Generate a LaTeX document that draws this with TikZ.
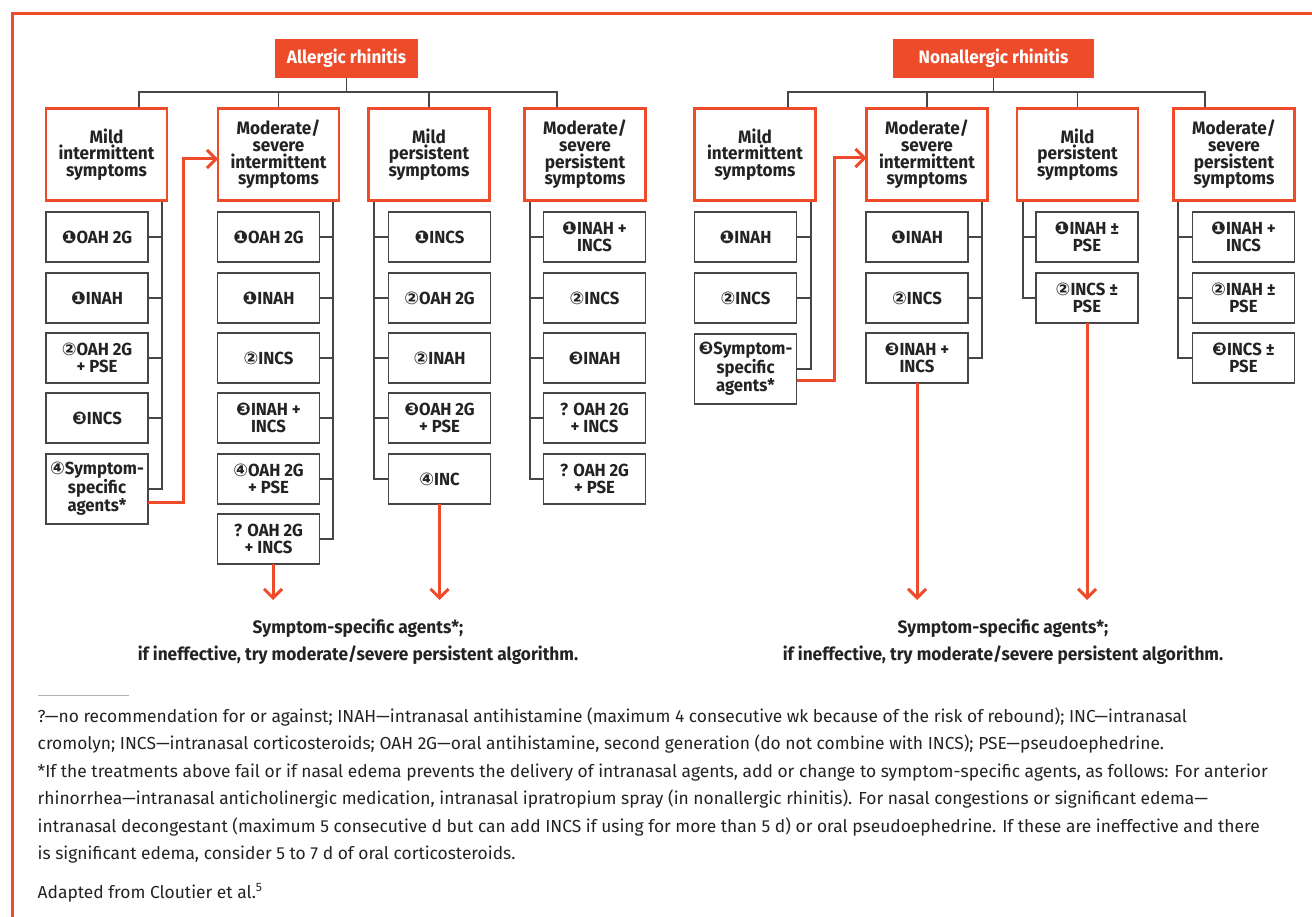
\documentclass[tikz,border=0pt]{standalone}
\usepackage{fontspec}
\setmainfont{Fira Sans}[FakeStretch=0.955]
\newfontfamily\footf{Fira Sans}
\newfontfamily\bott{Fira Sans}[FakeStretch=0.96]
\newfontfamily\dv{DejaVu Sans}
\usetikzlibrary{arrows.meta,calc}
\definecolor{ared}{RGB}{238,75,43}
\definecolor{ink}{RGB}{35,35,35}
\definecolor{lgray}{RGB}{70,70,70}
\pgfdeclarelayer{bg}
\pgfsetlayers{bg,main}
\newcommand{\nA}{{\dv\fontsize{17.5}{14}\selectfont ❶}}
\newcommand{\nB}{{\dv\fontsize{17.5}{14}\selectfont ②}}
\newcommand{\nC}{{\dv\fontsize{17.5}{14}\selectfont ❸}}
\newcommand{\nD}{{\dv\fontsize{17.5}{14}\selectfont ④}}
\tikzset{
 cat/.style={draw=ared, line width=2.6pt, fill=white, minimum width=121pt, minimum height=92pt, inner sep=0pt, outer sep=0pt, align=center, text=ink, font=\bfseries\fontsize{18}{16.7}\selectfont},
 item/.style={draw=lgray, line width=1.4pt, fill=white, minimum width=102pt, minimum height=50pt, inner sep=0pt, outer sep=0pt, align=center, text=ink, font=\bfseries\fontsize{17.5}{16.7}\selectfont},
 tall/.style={item, minimum height=70pt},
 ttl/.style={fill=ared, text=white, minimum height=39pt, inner sep=0pt, outer sep=0pt, font=\bfseries\fontsize{18}{20}\selectfont},
 conn/.style={draw=lgray, line width=1.3pt},
 rarr/.style={draw=ared, line width=3pt, -{Straight Barb[length=9pt,width=18pt]}},
 btxt/.style={align=center, text=ink, inner sep=0pt, font=\bott\bfseries\fontsize{18}{27}\selectfont},
 foot/.style={anchor=base west, inner sep=0pt, text=ink, font=\footf\fontsize{17.4}{20}\selectfont},
}
\begin{document}
\begin{tikzpicture}[x=1pt,y=-1pt]
\useasboundingbox (0,0) rectangle (1312,917);
\clip (0,0) rectangle (1312,917);
\draw[ared, line width=2.6pt] (12.5,1000) -- (12.5,13.5) -- (1400,13.5);

% ---------- Allergic rhinitis ----------
\node[ttl, minimum width=143pt] (AR) at (346.5,58.5) {Allergic rhinitis};
\node[cat] (A1) at (106.5,154.5) {Mild\\intermittent\\symptoms};
\node[cat] (A2) at (278.5,154.5) {Moderate/\\severe\\intermittent\\symptoms};
\node[cat] (A3) at (429,154.5) {Mild\\persistent\\symptoms};
\node[cat] (A4) at (585,154.5) {Moderate/\\severe\\persistent\\symptoms};

\node[item] (A1a) at (97,237) {\nA OAH 2G};
\node[item] (A1b) at (97,298) {\nA INAH};
\node[item] (A1c) at (97,358) {\nB OAH 2G\\+ PSE};
\node[item] (A1d) at (97,418) {\nC INCS};
\node[tall] (A1e) at (97,489) {\nD Symptom-\\specific\\agents*};

\node[item] (A2a) at (268.5,237) {\nA OAH 2G};
\node[item] (A2b) at (268.5,298) {\nA INAH};
\node[item] (A2c) at (268.5,358) {\nB INCS};
\node[item] (A2d) at (268.5,418) {\nC INAH +\\INCS};
\node[item] (A2e) at (268.5,479) {\nD OAH 2G\\+ PSE};
\node[item] (A2f) at (268.5,539) {? OAH 2G\\+ INCS};

\node[item] (A3a) at (439.5,237) {\nA INCS};
\node[item] (A3b) at (439.5,298) {\nB OAH 2G};
\node[item] (A3c) at (439.5,358) {\nB INAH};
\node[item] (A3d) at (439.5,418) {\nC OAH 2G\\+ PSE};
\node[item] (A3e) at (439.5,479) {\nD INC};

\node[item] (A4a) at (594.5,237) {\nA INAH +\\INCS};
\node[item] (A4b) at (594.5,298) {\nB INCS};
\node[item] (A4c) at (594.5,358) {\nC INAH};
\node[item] (A4d) at (594.5,418) {? OAH 2G\\+ INCS};
\node[item] (A4e) at (594.5,479) {? OAH 2G\\+ PSE};

% ---------- Nonallergic rhinitis ----------
\node[ttl, minimum width=201pt] (NR) at (993.5,58.5) {Nonallergic rhinitis};
\node[cat] (N1) at (755,154.5) {Mild\\intermittent\\symptoms};
\node[cat] (N2) at (927,154.5) {Moderate/\\severe\\intermittent\\symptoms};
\node[cat] (N3) at (1077.5,154.5) {Mild\\persistent\\symptoms};
\node[cat] (N4) at (1234,154.5) {Moderate/\\severe\\persistent\\symptoms};

\node[item] (N1a) at (745.5,237) {\nA INAH};
\node[item] (N1b) at (745.5,298) {\nB INCS};
\node[tall] (N1c) at (745.5,369) {\nC Symptom-\\specific\\agents*};

\node[item] (N2a) at (917,237) {\nA INAH};
\node[item] (N2b) at (917,298) {\nB INCS};
\node[item] (N2c) at (917,358) {\nC INAH +\\INCS};

\node[item] (N3a) at (1087,237) {\nA INAH ±\\PSE};
\node[item] (N3b) at (1087,298) {\nB INCS ±\\PSE};

\node[item] (N4a) at (1243.5,237) {\nA INAH +\\INCS};
\node[item] (N4b) at (1243.5,298) {\nB INAH ±\\PSE};
\node[item] (N4c) at (1243.5,358) {\nC INCS ±\\PSE};

% ---------- connectors ----------
\coordinate (D1) at (139,92);
\coordinate (D4) at (557,92);
\coordinate (D5) at (788,92);
\coordinate (D8) at (1205,92);
\coordinate (sA1) at (162,0);
\coordinate (sA2) at (333,0);
\coordinate (sA3) at (374,0);
\coordinate (sA4) at (530,0);
\coordinate (sN1) at (811,0);
\coordinate (sN2) at (982,0);
\coordinate (sN3) at (1023,0);
\coordinate (sN4) at (1178,0);
\coordinate (ay) at (0,600);

\begin{pgfonlayer}{bg}
\draw[conn] (A1.north -| D1) -- (D1) -- (D4) -- (A4.north -| D4);
\draw[conn] (AR.south) -- (AR.south |- D1);
\draw[conn] (A2.north) -- (A2.north |- D1);
\draw[conn] (A3.north) -- (A3.north |- D1);

\draw[conn] (N1.north -| D5) -- (D5) -- (D8) -- (N4.north -| D8);
\draw[conn] (NR.south) -- (NR.south |- D5);
\draw[conn] (N2.north) -- (N2.north |- D5);
\draw[conn] (N3.north) -- (N3.north |- D5);

% spines on the right
\draw[conn] (A1.south -| sA1) |- (A1e.east);
\foreach \n in {a,b,c,d} \draw[conn] (A1\n.east) -- (A1\n.east -| sA1);
\draw[conn] (A2.south -| sA2) |- (A2f.east);
\foreach \n in {a,b,c,d,e} \draw[conn] (A2\n.east) -- (A2\n.east -| sA2);
\draw[conn] (N1.south -| sN1) |- (N1c.east);
\foreach \n in {a,b} \draw[conn] (N1\n.east) -- (N1\n.east -| sN1);
\draw[conn] (N2.south -| sN2) |- (N2c.east);
\foreach \n in {a,b} \draw[conn] (N2\n.east) -- (N2\n.east -| sN2);
% spines on the left
\draw[conn] (A3.south -| sA3) |- (A3e.west);
\foreach \n in {a,b,c,d} \draw[conn] (A3\n.west) -- (A3\n.west -| sA3);
\draw[conn] (A4.south -| sA4) |- (A4e.west);
\foreach \n in {a,b,c,d} \draw[conn] (A4\n.west) -- (A4\n.west -| sA4);
\draw[conn] (N3.south -| sN3) |- (N3b.west);
\draw[conn] (N3a.west) -- (N3a.west -| sN3);
\draw[conn] (N4.south -| sN4) |- (N4c.west);
\foreach \n in {a,b} \draw[conn] (N4\n.west) -- (N4\n.west -| sN4);
\end{pgfonlayer}

% red arrows
\draw[rarr] ($(A1e.east)+(0,13)$) -| ($(A2.west)+(-35,4.5)$) -- ($(A2.west)+(0,4.5)$);
\draw[rarr] ($(N1c.east)+(0,11)$) -| ($(N2.west)+(-32,3.5)$) -- ($(N2.west)+(0,3.5)$);
\coordinate (t1) at ($(A2f.south)+(4.5,0)$);
\coordinate (t2) at (A3e.south);
\coordinate (t3) at (N2c.south);
\coordinate (t4) at (N3b.south);
\draw[rarr] (t1) -- (t1 |- ay);
\draw[rarr] (t2) -- (t2 |- ay);
\draw[rarr] (t3) -- (t3 |- ay);
\draw[rarr] (t4) -- (t4 |- ay);

\node[btxt] (BL) at (358,641.5) {Symptom-specific agents*;\\if ineffective, try moderate/severe persistent algorithm.};
\node[btxt] (BR) at (1003,641.5) {Symptom-specific agents*;\\if ineffective, try moderate/severe persistent algorithm.};

% footnote
\draw[gray!60, line width=1pt] (38,695) -- (129,695);
\node[foot] (f1) at (37.5,722) {?—no recommendation for or against; INAH—intranasal antihistamine (maximum 4 consecutive wk because of the risk of rebound); INC—intranasal};
\node[foot] (f2) at (37.5,749.5) {cromolyn; INCS—intranasal corticosteroids; OAH 2G—oral antihistamine, second generation (do not combine with INCS); PSE—pseudoephedrine.};
\node[foot] (f3) at (37.5,777) {*If the treatments above fail or if nasal edema prevents the delivery of intranasal agents, add or change to symptom-specific agents, as follows: For anterior};
\node[foot] (f4) at (37.5,804.5) {rhinorrhea—intranasal anticholinergic medication, intranasal ipratropium spray (in nonallergic rhinitis). For nasal congestions or significant edema—};
\node[foot] (f5) at (37.5,832) {intranasal decongestant (maximum 5 consecutive d but can add INCS if using for more than 5 d) or oral pseudoephedrine. If these are ineffective and there};
\node[foot] (f6) at (37.5,859.5) {is significant edema, consider 5 to 7 d of oral corticosteroids.};
\node[foot] (f7) at (37.5,898) {Adapted from Cloutier et al.\textsuperscript{5}};
\end{tikzpicture}
\end{document}
